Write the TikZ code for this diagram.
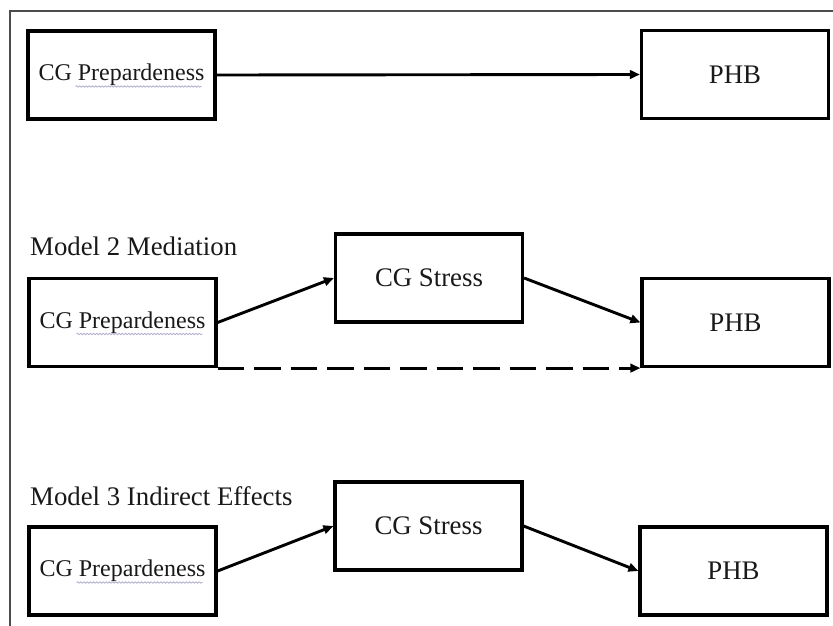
\documentclass[tikz,border=0pt]{standalone}
\usepackage{fontspec}
\setmainfont{Liberation Serif}
\usetikzlibrary{arrows.meta,decorations.pathmorphing,calc}
\begin{document}
\begin{tikzpicture}[x=1pt,y=-1pt,
  box/.style={draw=black, line width=3.2pt, minimum width=187pt, minimum height=88pt,
    inner sep=0pt, text=black!90, font=\fontsize{26.8}{30}\selectfont},
  prep/.style={box, font=\fontsize{24}{28}\selectfont},
  conn/.style={line width=2.9pt, -{Triangle[length=10pt,width=8.5pt]}},
  dconn/.style={conn, dash pattern=on 26.5pt off 10pt},
  title/.style={anchor=base west, inner sep=0pt, font=\fontsize{26.8}{30}\selectfont, text=black!90},
  squig/.style={draw=blue!25!gray!50, line width=0.8pt, decorate,
    decoration={snake, amplitude=0.7pt, segment length=3.2pt}}
]
\useasboundingbox (0,0) rectangle (833,626);
\fill[white] (0,0) rectangle (833,626);
\draw[line width=1.4pt, black!70] (10,626) -- (10,11) -- (833,11);

% Model 1
\node[prep] (p1) at (121.5,75) {CG Prepardeness};
\node[box]  (h1) at (735,74.5) {PHB};
\draw[conn] (p1.east) -- (h1.west);

% Model 2
\node[title] (t2) at (30,255) {Model 2 Mediation};
\node[prep] (p2) at (122.5,322.5) {CG Prepardeness};
\node[box]  (s2) at (429,278) {CG Stress};
\node[box]  (h2) at (735.5,322.5) {PHB};
\draw[conn] (p2.east) -- (s2.west);
\draw[conn] (s2.east) -- (h2.west);
\draw[dconn] (p2.south east) -- (h2.south west);

% Model 3
\node[title] (t3) at (30,505) {Model 3 Indirect Effects};
\node[prep] (p3) at (122.5,571) {CG Prepardeness};
\node[box]  (s3) at (428.5,526) {CG Stress};
\node[box]  (h3) at (733.5,571) {PHB};
\draw[conn] (p3.east) -- (s3.west);
\draw[conn] (s3.east) -- (h3.west);

% spell-check squiggles
\foreach \n in {p1,p2,p3}{
  \draw[squig] ($(\n.center)+(-46,11.5)$) -- ($(\n.center)+(80,11.5)$);
}
\end{tikzpicture}
\end{document}
